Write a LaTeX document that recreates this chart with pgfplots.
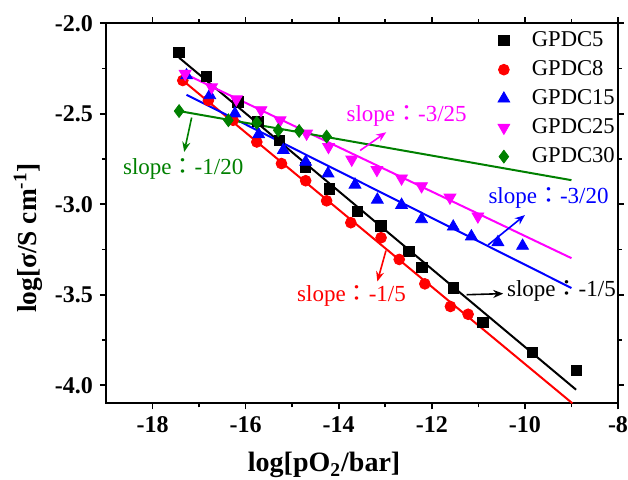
\documentclass[border=0pt]{standalone}
\usepackage{fontspec}
\setmainfont{Liberation Serif}
\newfontfamily\cjk{Noto Sans CJK TC}
\usepackage{pgfplots}
\pgfplotsset{compat=1.18}
\usetikzlibrary{calc,arrows.meta}
\definecolor{ogreen}{RGB}{0,128,0}
\definecolor{pmag}{RGB}{255,0,255}
\newcommand{\fwcolon}{{\cjk ：}}
\begin{document}
\begin{tikzpicture}
\begin{axis}[
  scale only axis, width=256pt, height=190pt,
  xmin=-19, xmax=-8, ymin=-4.1, ymax=-2.0,
  xtick={-18,-16,-14,-12,-10,-8}, minor x tick num=1,
  ytick={-4,-3.5,-3,-2.5,-2}, minor y tick num=1,
  tick align=outside, major tick length=3pt, minor tick length=2pt,
  axis line style={line width=0.8pt},
  every tick/.style={line width=0.8pt,black},
  /pgf/number format/assume math mode=true,
  tick label style={font=\fontsize{12}{13}\selectfont\bfseries},
  yticklabel style={/pgf/number format/.cd, fixed, fixed zerofill, precision=1},
  xticklabel style={/pgf/number format/.cd, fixed, precision=0},
  font=\fontsize{11.5}{13.5}\selectfont,
  xlabel={log[pO\textsubscript{2}/bar]},
  ylabel={log[σ/S cm\textsuperscript{-1}]},
  label style={font=\fontsize{14}{16}\selectfont\bfseries},
  xlabel style={at={(axis description cs:0.426,-0.163)}, anchor=center},
  ylabel style={at={(axis description cs:-0.152,0.435)}, anchor=center, rotate=0, font=\fontsize{13.7}{16}\selectfont\bfseries},
  legend style={draw=none, fill=none, at={(1.014,1)}, anchor=north east, font=\fontsize{11.3}{13}\selectfont, row sep=1.5pt},
  legend image code/.code={\draw[#1] plot coordinates {(0cm,0cm)}; \path[draw=none,fill=none] (0pt,0pt) -- (12pt,0pt);},
  legend cell align=left,
  clip=false,
]
% data
\addplot[only marks, mark=square*, mark size=2.6pt, black] coordinates {
(-17.43,-2.16) (-16.84,-2.294) (-16.17,-2.435) (-15.74,-2.543) (-15.28,-2.646) (-14.71,-2.797) (-14.20,-2.915) (-13.60,-3.04) (-13.09,-3.12) (-12.49,-3.262) (-12.21,-3.35) (-11.54,-3.463) (-10.90,-3.653) (-9.84,-3.818) (-8.90,-3.919)};
\addlegendentry{GPDC5}
\addplot[only marks, mark=*, mark size=2.7pt, red] coordinates {
(-17.35,-2.316) (-16.80,-2.426) (-16.27,-2.536) (-15.76,-2.656) (-15.23,-2.775) (-14.71,-2.87) (-14.26,-2.981) (-13.74,-3.102) (-13.09,-3.185) (-12.70,-3.305) (-12.15,-3.44) (-11.60,-3.565) (-11.22,-3.608)};
\addlegendentry{GPDC8}
\addplot[only marks, mark=triangle*, mark size=3.4pt, blue] coordinates {
(-17.27,-2.288) (-16.77,-2.398) (-16.23,-2.499) (-15.72,-2.614) (-15.19,-2.701) (-14.71,-2.766) (-14.23,-2.83) (-13.65,-2.892) (-13.17,-2.975) (-12.65,-3.004) (-12.22,-3.083) (-11.54,-3.124) (-11.15,-3.178) (-10.58,-3.21) (-10.05,-3.23)};
\addlegendentry{GPDC15}
\addplot[only marks, mark=triangle*, mark options={rotate=180}, mark size=3.4pt, pmag] coordinates {
(-17.30,-2.279) (-16.73,-2.353) (-16.20,-2.42) (-15.67,-2.48) (-15.26,-2.536) (-14.69,-2.609) (-14.22,-2.683) (-13.72,-2.753) (-13.18,-2.81) (-12.65,-2.857) (-12.22,-2.90) (-11.61,-2.963) (-11.01,-3.067)};
\addlegendentry{GPDC25}
\addplot[only marks, mark=diamond*, mark size=3.2pt, ogreen] coordinates {
(-17.43,-2.485) (-16.37,-2.536) (-15.76,-2.55) (-15.30,-2.591) (-14.85,-2.595) (-14.26,-2.626)};
\addlegendentry{GPDC30}
% fit lines
\addplot[black, line width=1pt, forget plot] coordinates {(-17.43,-2.19) (-8.90,-4.025)};
\addplot[red, line width=1pt, forget plot] coordinates {(-17.35,-2.316) (-8.98,-4.1)};
\addplot[blue, line width=1pt, forget plot] coordinates {(-17.27,-2.395) (-9.0,-3.463)};
\addplot[pmag, line width=1pt, forget plot] coordinates {(-17.30,-2.28) (-9.0,-3.298)};
\addplot[ogreen, line width=1pt, forget plot] coordinates {(-17.43,-2.485) (-9.0,-2.867)};
% annotations
\node[anchor=west, pmag, inner sep=0pt] at (axis cs:-13.84,-2.514) {slope\fwcolon-3/25};
\draw[pmag, line width=0.8pt, -{Stealth[length=5pt,width=4pt]}] (axis cs:-13.54,-2.703) -- (axis cs:-12.98,-2.602);
\node[anchor=west, ogreen, inner sep=0pt] at (axis cs:-18.64,-2.804) {slope\fwcolon-1/20};
\draw[ogreen, line width=0.8pt, -{Stealth[length=5pt,width=4pt]}] (axis cs:-17.16,-2.521) -- (axis cs:-17.32,-2.711);
\node[anchor=west, blue, inner sep=0pt] at (axis cs:-10.79,-2.967) {slope\fwcolon-3/20};
\draw[blue, line width=0.8pt, -{Stealth[length=5pt,width=4pt]}] (axis cs:-10.79,-3.225) -- (axis cs:-10.0,-3.06);
\node[anchor=west, red, inner sep=0pt] at (axis cs:-14.90,-3.506) {slope\fwcolon-1/5};
\draw[red, line width=0.8pt, -{Stealth[length=5pt,width=4pt]}] (axis cs:-12.985,-3.256) -- (axis cs:-13.17,-3.427);
\node[anchor=west, black, inner sep=0pt] at (axis cs:-10.39,-3.482) {slope\fwcolon-1/5};
\draw[black, line width=0.8pt, -{Stealth[length=5pt,width=4pt]}] (axis cs:-11.25,-3.5) -- (axis cs:-10.465,-3.494);
\end{axis}
\pgfresetboundingbox
\path[use as bounding box] ($(current axis.south west)+(-53pt,-38.35pt)$) rectangle ($(current axis.north east)+(5pt,11.65pt)$);
\end{tikzpicture}
\end{document}
